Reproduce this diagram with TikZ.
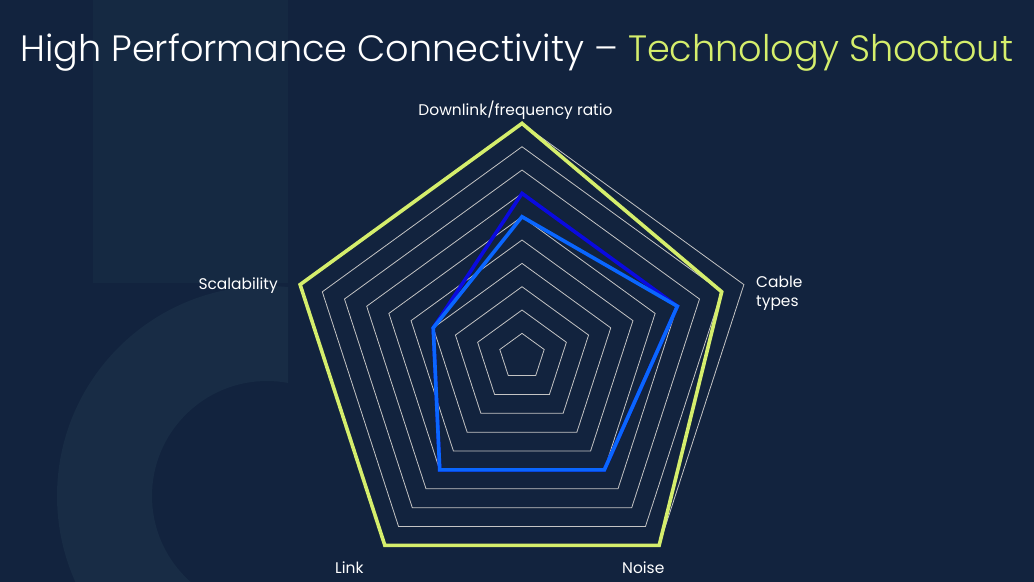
\documentclass[tikz,border=0pt]{standalone}
\usepackage{fontspec}
\setmainfont{Poppins}
\newfontfamily\lightfont{Poppins Light}
\usepackage{xcolor}

\definecolor{bgnavy}{HTML}{12233E}
\definecolor{bgshade}{HTML}{152942}
\definecolor{bgring}{HTML}{182C45}
\definecolor{lime}{HTML}{D5EE6C}
\definecolor{deepblue}{HTML}{0A0AE0}
\definecolor{brightblue}{HTML}{0A66FF}
\definecolor{gridgray}{HTML}{C4C4C4}
\newcommand{\radarstep}{23.33}

\begin{document}
\begin{tikzpicture}[x=1bp, y=-1bp]
    \tikzstyle{axislabel} = [text=white, font=\fontsize{15.5}{19}\selectfont, inner sep=0pt]
    \tikzstyle{gridline} = [draw=gridgray, line width=0.8bp]
    \tikzstyle{series} = [line width=3.6bp, line join=miter]

    % Hintergrund
    \fill[bgnavy] (0,0) rectangle (1034,582);
    \useasboundingbox (0,0) rectangle (1034,582);
    \fill[bgshade] (93,0) rectangle (288,283);
    \begin{scope}
        \clip (0,0) rectangle (288,582);
        \fill[bgring, even odd rule] (267,496) circle (210bp) (267,496) circle (115bp);
    \end{scope}

    % Titel
    \node[anchor=base west, inner sep=0pt, text=white, font=\lightfont\fontsize{36.8}{42}\selectfont] (title) at (20,62)
        {High Performance Connectivity – \textcolor{lime}{Technology Shootout}};

    % Netz und Datenreihen
    \begin{scope}[shift={(522,356.7)}]
        \coordinate (centre) at (0,0);
        \foreach \lvl in {1,...,10}
            \draw[gridline] (-90:\lvl*\radarstep) -- (-18:\lvl*\radarstep) -- (54:\lvl*\radarstep) -- (126:\lvl*\radarstep) -- (198:\lvl*\radarstep) -- cycle;

        \draw[series, lime] (-90:10*\radarstep) -- (-18:9*\radarstep) -- (54:10*\radarstep) -- (126:10*\radarstep) -- (198:10*\radarstep) -- cycle;
        \draw[series, deepblue] (-90:7*\radarstep) -- (-18:7*\radarstep) -- (54:6*\radarstep) -- (126:6*\radarstep) -- (198:4*\radarstep) -- cycle;
        \draw[series, brightblue] (-90:6*\radarstep) -- (-18:7*\radarstep) -- (54:6*\radarstep) -- (126:6*\radarstep) -- (198:4*\radarstep) -- cycle;
    \end{scope}

    % Achsenbeschriftungen
    \node[axislabel, anchor=base] (downlink) at (515.5,116) {Downlink/frequency ratio};
    \node[axislabel, anchor=north west, align=left] (cable) at (756,276) {Cable\\types};
    \node[axislabel, anchor=base west] (noise) at (622,573) {Noise};
    \node[axislabel, anchor=base west] (link) at (335,573) {Link};
    \node[axislabel, anchor=base east] (scalability) at (278,290) {Scalability};
\end{tikzpicture}
\end{document}
